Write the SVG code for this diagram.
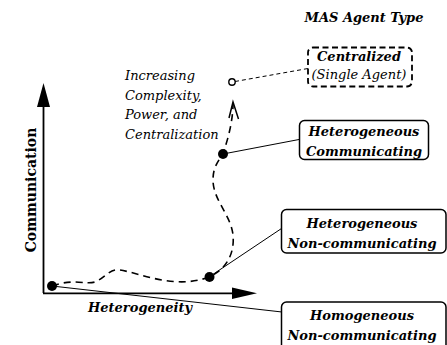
<svg xmlns="http://www.w3.org/2000/svg" width="447" height="345" viewBox="0 0 447 345">
<style>
text{font-family:"DejaVu Serif","Liberation Serif",serif;font-size:13px;fill:#000}
.bi{font-weight:bold;font-style:italic}
.i{font-style:italic}
.b{font-weight:bold;font-size:14px}
.box{fill:#fff;stroke:#000;stroke-width:1.5}
.dbox{fill:#fff;stroke:#000;stroke-width:1.8;stroke-dasharray:6,3.5}
.ln{fill:none;stroke:#000;stroke-width:1}
.curve{fill:none;stroke:#000;stroke-width:1.6;stroke-dasharray:7,5}
.head{fill:none;stroke:#000;stroke-width:1.5}
.dash{fill:none;stroke:#000;stroke-width:1;stroke-dasharray:4,3}
.dot{fill:#000}
</style>
<rect width="447" height="345" fill="#fff"/>
<g id="axes">
<line x1="43.5" y1="293" x2="43.5" y2="105" stroke="#000" stroke-width="1.8"/>
<polygon points="43.5,83 37,107 50,107" fill="#000"/>
<line x1="43" y1="293.3" x2="234" y2="293.3" stroke="#000" stroke-width="1.8"/>
<polygon points="257,293.3 232,287.5 232,299" fill="#000"/>
<text class="b" transform="translate(35.5,190) rotate(-90)" text-anchor="middle">Communication</text>
<text class="bi" x="140" y="312" text-anchor="middle">Heterogeneity</text>
</g>
<g id="title"><text class="bi" x="364" y="21.5" text-anchor="middle">MAS Agent Type</text></g>
<g id="trend-label">
<text class="i" x="125" y="80">Increasing</text>
<text class="i" x="125" y="99.5">Complexity,</text>
<text class="i" x="125" y="119">Power, and</text>
<text class="i" x="125" y="138.5">Centralization</text>
</g>
<g id="connectors">
<path class="curve" d="M52,286 C 75,278 85,285 95,282 C 105,278 110,268 120,270 C 140,273 175,290 209,277 C 225,270 235,255 233,235 C 231,215 213,200 213,180 C 213,165 220,160 223,153 C 228,140 233,120 233,104"/>
<polyline class="head" points="229,118 233,102 238.5,119"/>
<line class="dash" x1="235" y1="81.5" x2="308" y2="68.5"/>
<line class="ln" x1="223" y1="154" x2="299" y2="139.5"/>
<line class="ln" x1="209" y1="277" x2="281.5" y2="228.5"/>
<line class="ln" x1="52" y1="286" x2="282" y2="312"/>
</g>
<g id="centralized">
<rect class="dbox" x="308" y="47.5" width="104" height="39" rx="5"/>
<text class="bi" x="359" y="60.5" text-anchor="middle">Centralized</text>
<text class="i" x="359" y="78.5" text-anchor="middle">(Single Agent)</text>
<circle cx="232" cy="82" r="3.2" fill="#fff" stroke="#000" stroke-width="1.4"/>
</g>
<g id="het-comm">
<rect class="box" x="299.5" y="120.5" width="129" height="39" rx="5"/>
<text class="bi" x="364" y="136" text-anchor="middle">Heterogeneous</text>
<text class="bi" x="364" y="155.5" text-anchor="middle">Communicating</text>
<circle class="dot" cx="223" cy="154" r="5"/>
</g>
<g id="het-noncomm">
<rect class="box" x="281.5" y="209.5" width="164.5" height="43.5" rx="5"/>
<text class="bi" x="362" y="227.5" text-anchor="middle">Heterogeneous</text>
<text class="bi" x="362" y="247.5" text-anchor="middle">Non-communicating</text>
<circle class="dot" cx="209.5" cy="277" r="5"/>
</g>
<g id="hom-noncomm">
<rect class="box" x="281.5" y="302" width="164.5" height="50" rx="5"/>
<text class="bi" x="362" y="320" text-anchor="middle">Homogeneous</text>
<text class="bi" x="362" y="339.5" text-anchor="middle">Non-communicating</text>
<circle class="dot" cx="52" cy="286" r="5"/>
</g>
</svg>
